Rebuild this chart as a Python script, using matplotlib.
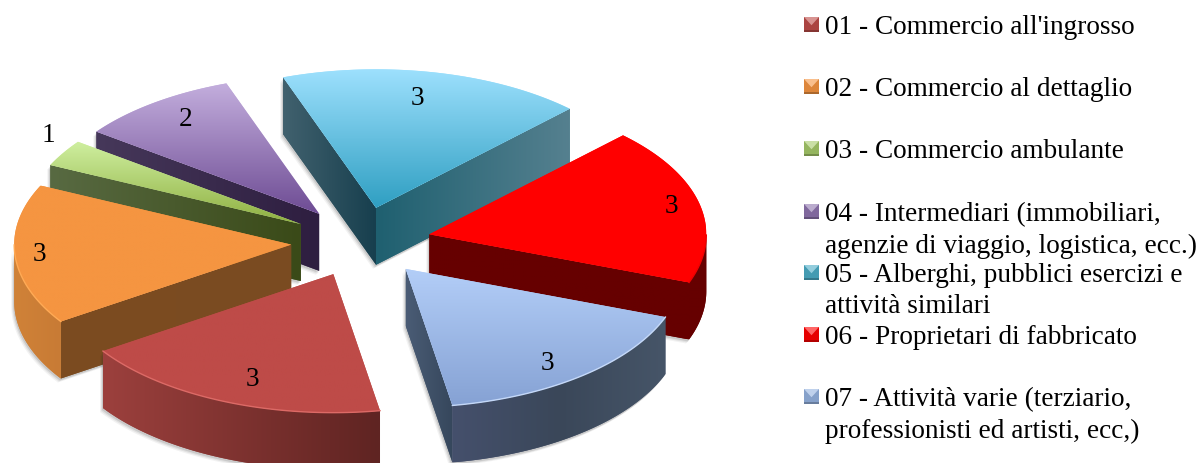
import numpy as np
import matplotlib
matplotlib.use("Agg")
import matplotlib.pyplot as plt
from matplotlib.colors import LinearSegmentedColormap
from matplotlib.patches import Polygon

# chart data (labels are the values rounded, as the original number format does)
categories = ["01 - Commercio all'ingrosso",
              "02 - Commercio al dettaglio",
              "03 - Commercio ambulante",
              "04 - Intermediari (immobiliari,\nagenzie di viaggio, logistica, ecc.)",
              "05 - Alberghi, pubblici esercizi e\nattività similari",
              "06 - Proprietari di fabbricato",
              "07 - Attività varie (terziario,\nprofessionisti ed artisti, ecc,)"]
values = [3.3, 2.95, 0.56, 1.7, 3.2, 3.3, 3.0]
value_labels = ["3", "3", "1", "2", "3", "3", "3"]

# colours: top gradient (back to front), walls as (left, right) pairs
top_colors = [["#BE4B48", "#BE4B48"], ["#F59541", "#F59541"], ["#CFEFA0", "#8FB041"],
              ["#C3AEDD", "#6E4C94"], ["#9DE0FD", "#2F9FC2"], ["#FF0000", "#FF0000"],
              ["#B3CEF8", "#86A2D4"]]
start_cut_colors = [None, ["#7C4C20", "#7A4B22"], ["#586A42", "#3A4A18"], ["#46385A", "#2E1E40"],
                    ["#41616E", "#173F4E"], None, None]
end_cut_colors = [None, None, None, None, ["#1F6070", "#55808F"], ["#660000", "#660000"],
                  ["#4A5C75", "#36475C"]]
arc_colors = [["#9C403D", "#5F2422"], ["#D08238", "#C87B35"], None, None, None,
              ["#660000", "#660000"], ["#45506C", "#3A4759", "#465568"]]
rim_colors = ["#DC6A66", "#FFAA55", None, None, None, "#F00000", "#C4D8F8"]
key_colors = ["#BE4B48", "#F59541", "#A6C96A", "#8E74AE", "#4BACC6", "#FF0000", "#95B3E0"]

# layout in pixels of the 1201x464 picture
CX, CY = 361, 243
RADIUS = 277
SQUASH = 0.5
EXPLODE = 70
DEPTH = 57
START_ANGLE = 170.3
label_radius = [0.81, 0.91, 1.12, 0.84, 0.81, 0.90, 0.85]
label_turn = [-2.3, 0.3, 4.6, 1.5, -1.7, -0.8, 2.5]
legend_y = [25, 87, 149, 212, 273, 335, 397]
LINE_STEP = 31
FONT = "Liberation Serif"
FONT_SIZE = 19.6

fig = plt.figure(figsize=(12.01, 4.64), dpi=100)
ax = fig.add_axes([0, 0, 1, 1])
ax.set_axis_off()


def project(theta, r=RADIUS):
    # theta in degrees clockwise from the top of the pie
    t = np.radians(theta)
    return np.sin(t) * r, -np.cos(t) * r * SQUASH


def gradient_fill(points, colors, vertical, zorder):
    points = np.asarray(points)
    # plain fill underneath so the clip edges do not show a seam
    ax.add_patch(Polygon(points, closed=True, facecolor=colors[0], edgecolor="none", zorder=zorder))
    cmap = LinearSegmentedColormap.from_list("g", colors)
    grad = np.linspace(0, 1, 128)
    grad = grad[:, None] if vertical else grad[None, :]
    x0, y0 = points.min(axis=0)
    x1, y1 = points.max(axis=0)
    im = ax.imshow(grad, cmap=cmap, extent=(x0, x1, y1, y0), aspect="auto",
                   interpolation="bilinear", zorder=zorder)
    patch = Polygon(points, closed=True, transform=ax.transData, facecolor="none", edgecolor="none")
    ax.add_patch(patch)
    im.set_clip_path(patch)


def shadow(points, zorder):
    for dx, dy, a in [(-3, 4, 0.06), (-2, 3, 0.09), (-1, 2, 0.13)]:
        ax.add_patch(Polygon(np.asarray(points) + [dx, dy], closed=True, facecolor="#303030",
                             edgecolor="none", alpha=a, zorder=zorder))


def drop(points):
    # wall polygon under a top edge
    points = np.asarray(points)
    return np.vstack([points, points[::-1] + [0, DEPTH]])


spans = np.array(values) / sum(values) * 360
starts = START_ANGLE + np.concatenate([[0], np.cumsum(spans)[:-1]])
mids = starts + spans / 2

# paint from the back of the pie to the front
order = np.argsort(-np.cos(np.radians(mids)))
z = 2
for i in order:
    ax0, ay0 = project(mids[i], EXPLODE)
    apex = np.array([CX + ax0, CY + ay0])
    thetas = np.linspace(starts[i], starts[i] + spans[i], 80)
    ox, oy = project(thetas)
    arc = np.column_stack([apex[0] + ox, apex[1] + oy])

    walls = []
    if start_cut_colors[i] is not None:
        walls.append((drop([apex, arc[0]]), start_cut_colors[i]))
    if end_cut_colors[i] is not None:
        walls.append((drop([apex, arc[-1]]), end_cut_colors[i]))
    front = np.cos(np.radians(thetas)) < 0
    if arc_colors[i] is not None:
        walls.append((drop(arc[front]), arc_colors[i]))

    for poly, cols in walls:
        shadow(poly, z)
    z += 1
    for poly, cols in walls:
        gradient_fill(poly, cols, False, z)
    z += 1
    gradient_fill(np.vstack([apex, arc]), top_colors[i], True, z)
    z += 1
    if rim_colors[i] is not None:
        ax.plot(arc[front, 0], arc[front, 1], color=rim_colors[i], lw=1.0, zorder=z)
    z += 1

# value labels
for i in range(len(values)):
    ax0, ay0 = project(mids[i], EXPLODE)
    lx, ly = project(mids[i] + label_turn[i], RADIUS * label_radius[i])
    ax.text(CX + ax0 + lx, CY + ay0 + ly, value_labels[i], family=FONT, fontsize=FONT_SIZE,
            ha="center", va="center", color="black", zorder=100)

# legend, keys are little bevelled squares
KEY = 15
for i, name in enumerate(categories):
    y = legend_y[i]
    x0, y0 = 804, y - 7
    base = np.array(matplotlib.colors.to_rgb(key_colors[i]))
    ax.add_patch(Polygon([(x0, y0), (x0 + KEY, y0), (x0 + KEY, y0 + KEY), (x0, y0 + KEY)],
                         facecolor=base * 0.9, edgecolor="none", zorder=50))
    ax.add_patch(Polygon([(x0, y0 + KEY - 2), (x0 + KEY, y0 + KEY - 2), (x0 + KEY, y0 + KEY), (x0, y0 + KEY)],
                         facecolor=base * 0.7, edgecolor="none", zorder=51))
    ax.add_patch(Polygon([(x0, y0), (x0 + KEY, y0), (x0 + KEY / 2, y0 + KEY * 0.55)],
                         facecolor=base * 0.6 + 0.4, edgecolor="none", zorder=51))
    for j, line in enumerate(name.split("\n")):
        ax.text(825, y + j * LINE_STEP, line, family=FONT, fontsize=FONT_SIZE, ha="left",
                va="center_baseline", color="black", zorder=100)

ax.set_xlim(0, 1201)
ax.set_ylim(464, 0)
fig.savefig("out.png", dpi=100, facecolor="white")
